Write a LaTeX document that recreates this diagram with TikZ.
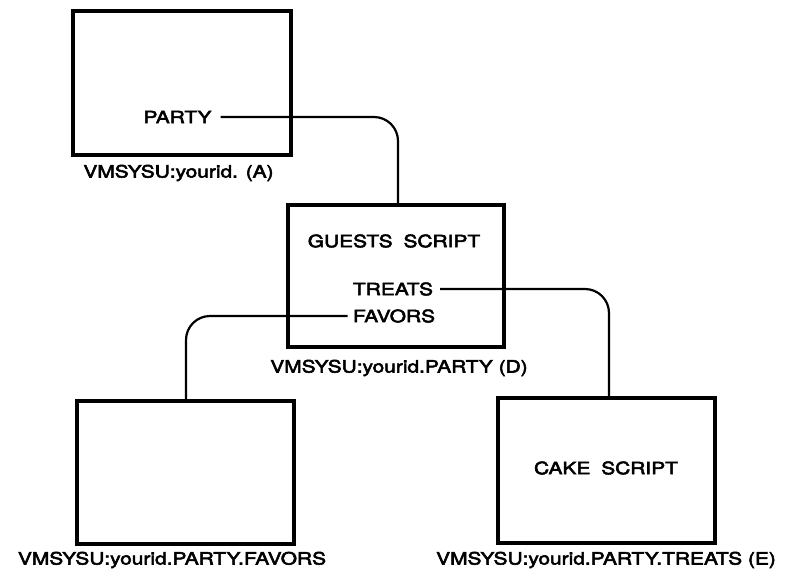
\documentclass[tikz,border=0pt]{standalone}
\usepackage{fontspec}
\setmainfont[FakeStretch=1.23,FakeBold=3.2]{TeX Gyre Heros}
\begin{document}
\begin{tikzpicture}[x=1pt,y=-1pt,
  box/.style={draw=black,line width=3.4pt,rectangle,inner sep=0pt},
  txt/.style={inner xsep=7pt,inner ysep=0pt,font=\fontsize{17}{20}\selectfont,text=black},
  lbl/.style={inner sep=0pt,font=\fontsize{17}{20}\selectfont,text=black},
  wire/.style={draw=black,line width=2.2pt,rounded corners=24pt}]
\useasboundingbox (0,0) rectangle (785,571);
\fill[white] (0,0) rectangle (785,571);
% boxes
\node[box,minimum width=218pt,minimum height=144pt] (A) at (182,83) {};
\node[box,minimum width=216pt,minimum height=142pt] (D) at (396,276) {};
\node[box,minimum width=217pt,minimum height=143pt] (F) at (185.5,472.5) {};
\node[box,minimum width=217pt,minimum height=145pt] (E) at (606.5,470.5) {};
% texts inside
\node[txt,inner xsep=9pt] (party) at (177.5,117) {PARTY};
\node[lbl] (guests) at (394,241) {GUESTS\hspace{0.3em} SCRIPT};
\node[txt] (treats) at (393,289) {TREATS};
\node[txt,inner xsep=5pt] (favors) at (394,316) {FAVORS};
\node[lbl] (cake) at (606,468) {CAKE\hspace{0.3em} SCRIPT};
% captions
\node[lbl] (la) at (178.5,173) {VMSYSU:yourid. (A)};
\node[lbl] (ld) at (399,368) {VMSYSU:yourid.PARTY (D)};
\node[lbl] (lf) at (172,560) {VMSYSU:yourid.PARTY.FAVORS};
\node[lbl] (le) at (606,560) {VMSYSU:yourid.PARTY.TREATS (E)};
% connectors
\coordinate (dtop) at (398,205);
\draw[wire] (party.east) -| (dtop);
\coordinate (etop) at (609,398);
\draw[wire] (treats.east) -| (etop);
\coordinate (ftop) at (186,401);
\draw[wire] (favors.west) -| (ftop);
\end{tikzpicture}
\end{document}
